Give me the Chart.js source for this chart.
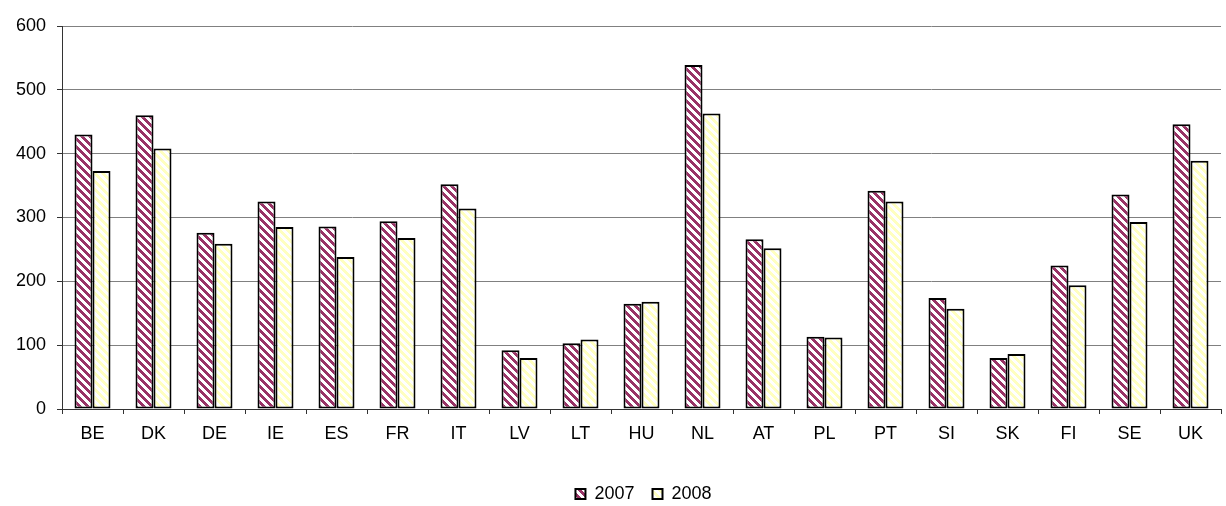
<!DOCTYPE html>
<html>
<head>
<meta charset="utf-8">
<title>Bar Chart</title>
<script src="https://cdn.jsdelivr.net/npm/chart.js"></script>
<style>
  html, body { margin: 0; padding: 0; background: #fff; }
  #wrap { width: 1226px; height: 506px; }
</style>
</head>
<body>
<div id="wrap"><canvas id="chartCanvas" width="1226" height="506"></canvas></div>
<script>
// data
const countries = ['BE', 'DK', 'DE', 'IE', 'ES', 'FR', 'IT', 'LV', 'LT', 'HU', 'NL', 'AT', 'PL', 'PT', 'SI', 'SK', 'FI', 'SE', 'UK'];
const values2007 = [430, 460, 276, 325, 286, 294, 352, 92, 103, 165, 539, 266, 113, 342, 174, 80, 225, 336, 446];
const values2008 = [373, 408, 259, 285, 238, 268, 314, 80, 109, 168, 463, 252, 112, 325, 157, 86, 194, 293, 389];
const yTicks = [0, 100, 200, 300, 400, 500, 600];

// wide downward diagonal hatch, like the spreadsheet fill
function hatch(color) {
  const c = document.createElement('canvas');
  c.width = 8; c.height = 8;
  const g = c.getContext('2d');
  g.fillStyle = '#fff';
  g.fillRect(0, 0, 8, 8);
  g.fillStyle = color;
  for (let y = 0; y < 8; y++) {
    for (let x = 0; x < 8; x++) {
      if ((((x - y) % 8) + 8) % 8 < 4) g.fillRect(x, y, 1, 1);
    }
  }
  return g.createPattern(c, 'repeat');
}

// the legend sits a bit right of centre and low in the original
const legendShift = {
  id: 'legendShift',
  afterLayout(chart) {
    const lg = chart.legend;
    lg.left += 33; lg.right += 33;
    lg.top += 7; lg.bottom += 7;
  }
};

const ctx = document.getElementById('chartCanvas').getContext('2d');
Chart.defaults.font.family = '"Liberation Sans", Arial, sans-serif';
Chart.defaults.font.size = 18;
Chart.defaults.color = '#000';

new Chart(ctx, {
  type: 'bar',
  data: {
    labels: countries,
    datasets: [{
      label: '2007',
      data: values2007,
      backgroundColor: hatch('#993366'),
      borderColor: '#000',
      borderWidth: 2,
      borderSkipped: false
    }, {
      label: '2008',
      data: values2008,
      backgroundColor: hatch('#ffffc0'),
      borderColor: '#000',
      borderWidth: 2,
      borderSkipped: false
    }]
  },
  options: {
    responsive: false,
    animation: false,
    layout: { padding: { left: 0, right: 5, top: 26, bottom: 0 } },
    datasets: { bar: { categoryPercentage: 0.59, barPercentage: 1.0 } },
    plugins: {
      tooltip: { enabled: false },
      legend: {
        position: 'bottom',
        labels: { boxWidth: 10, boxHeight: 10, padding: 18, color: '#000' }
      }
    },
    scales: {
      x: {
        offset: true,
        grid: { display: true, drawOnChartArea: false, tickLength: 5, tickColor: '#333', offset: true },
        border: { color: '#333', width: 1 },
        ticks: { padding: 9, color: '#000', maxRotation: 0 },
        afterFit: (s) => { s.height = 51; }
      },
      y: {
        min: 0,
        max: 600,
        afterBuildTicks: (s) => { s.ticks = yTicks.map(v => ({ value: v })); },
        grid: { color: '#808080', tickLength: 5, tickColor: '#333' },
        border: { color: '#333', width: 1 },
        ticks: { padding: 11, color: '#000' },
        afterFit: (s) => { s.width = 62; }
      }
    }
  },
  plugins: [legendShift]
});
</script>
</body>
</html>
